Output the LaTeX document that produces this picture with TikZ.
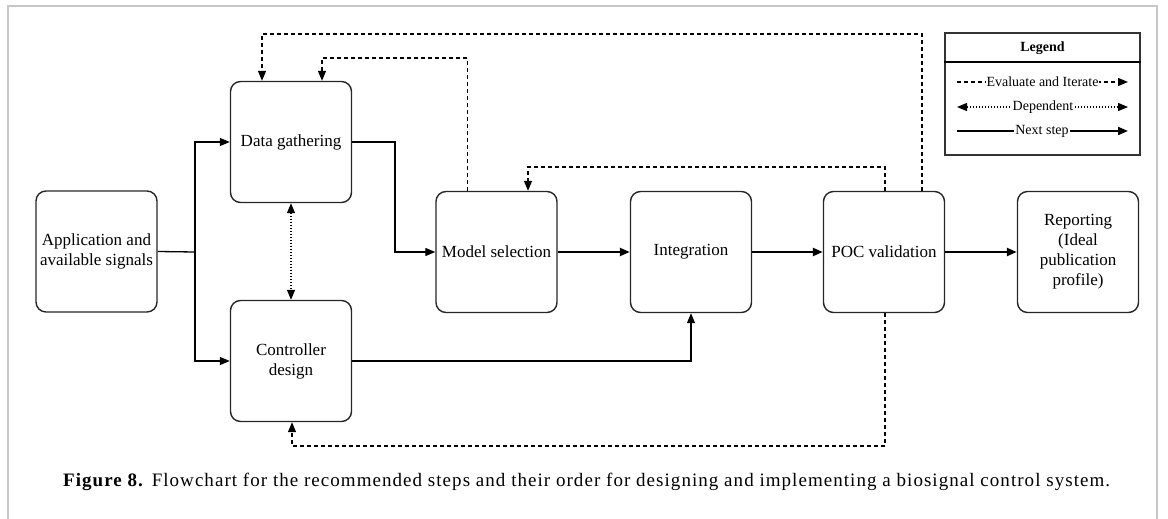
\documentclass[tikz,border=0pt]{standalone}
\usepackage{fontspec}
\setmainfont{Liberation Serif}
\newfontfamily\capfont[LetterSpace=5.5]{Liberation Serif}
\usetikzlibrary{arrows.meta,calc}
\begin{document}
\begin{tikzpicture}[x=1pt,y=-1pt,
  stepbox/.style={draw=black!85,line width=1.4pt,rounded corners=10pt,minimum width=121pt,minimum height=121pt,align=center,inner sep=2pt,font=\fontsize{17}{20}\selectfont},
  tip/.style={-{Triangle[length=10pt,width=8pt]}},
  conn/.style={tip,line width=1.3pt},
  thick step/.style={tip,line width=2.3pt},
  evalline/.style={tip,line width=1.3pt,dash pattern=on 4pt off 3pt},
  depline/.style={{Triangle[length=10pt,width=8pt]}-{Triangle[length=10pt,width=8pt]},line width=1.2pt,dash pattern=on 1.2pt off 1.8pt},
  legtext/.style={fill=white,inner sep=1pt,font=\fontsize{14}{16}\selectfont}
]
\useasboundingbox (0,0) rectangle (1168,519);
% frame
\draw[black!22,line width=2pt] (8,519) -- (8,6) -- (1157,6) -- (1157,519);

% boxes
\node[stepbox] (app) at (96.5,251.5) {Application and\\available signals};
\node[stepbox] (dg) at (291,142) {Data gathering};
\node[stepbox] (cd) at (291,361) {Controller\\design};
\node[stepbox] (ms) at (496.5,252) {Model selection};
\node[stepbox] (ig) at (691,252) {Integration};
\node[stepbox] (poc) at (884,252) {POC validation};
\node[stepbox] (rep) at (1078,252) {Reporting\\(Ideal\\publication\\profile)};

% routing points
\coordinate (split) at (195,252);
\coordinate (dgturn) at (395,142);
\coordinate (top1) at (600,34);
\coordinate (top2) at (400,58);
\coordinate (top3) at (700,167);
\coordinate (bot) at (600,446);

% next-step connectors
\draw[line width=1.3pt] (app.east) -- (split);
\draw[conn] (split) |- (dg.west);
\draw[conn] (split) |- (cd.west);
\draw[conn] (dg.east) -- (dgturn) |- (ms.west);
\draw[thick step] (ms.east) -- (ig.west);
\draw[thick step] (ig.east) -- (poc.west);
\draw[thick step] (poc.east) -- (rep.west);
\draw[conn] (cd.east) -| (ig.south);

% dependent
\draw[depline] (dg.south) -- (cd.north);

% evaluate and iterate
\draw[evalline] ([xshift=38pt]poc.north) |- (top1) -| ([xshift=-29pt]dg.north);
\draw[evalline] ([xshift=-29pt]ms.north) |- (top2) -| ([xshift=31pt]dg.north);
\draw[evalline] ([xshift=1pt]poc.north) |- (top3) -| ([xshift=31.5pt]ms.north);
\draw[evalline] ([xshift=1pt]poc.south) |- (bot) -| ([xshift=1pt]cd.south);

% legend
\node[draw=black!80,line width=1.3pt,minimum width=195pt,minimum height=122pt,inner sep=0pt] (legend) at (1042.5,94) {};
\node[font=\fontsize{14}{16}\selectfont\bfseries] (legtitle) at (1042.5,48) {Legend};
\draw[line width=2pt] (legend.west |- 0,62) -- (legend.east |- 0,62);
\coordinate (e1a) at (957,82); \coordinate (e1b) at (1128,82);
\coordinate (e2a) at (957,107); \coordinate (e2b) at (1128,107);
\coordinate (e3a) at (957,131); \coordinate (e3b) at (1128,131);
\draw[evalline] (e1a) -- (e1b);
\draw[depline] (e2a) -- (e2b);
\draw[tip,line width=2pt] (e3a) -- (e3b);
\node[legtext] (l1) at (1042.5,82) {Evaluate and Iterate};
\node[legtext] (l2) at (1043,107) {Dependent};
\node[legtext] (l3) at (1042,131) {Next step};

% caption
\node[anchor=base west,inner sep=0pt,font=\capfont\fontsize{19}{21}\selectfont] (cap) at (63,486) {\textbf{Figure 8.} Flowchart for the recommended steps and their order for designing and implementing a biosignal control system.};
\end{tikzpicture}
\end{document}
